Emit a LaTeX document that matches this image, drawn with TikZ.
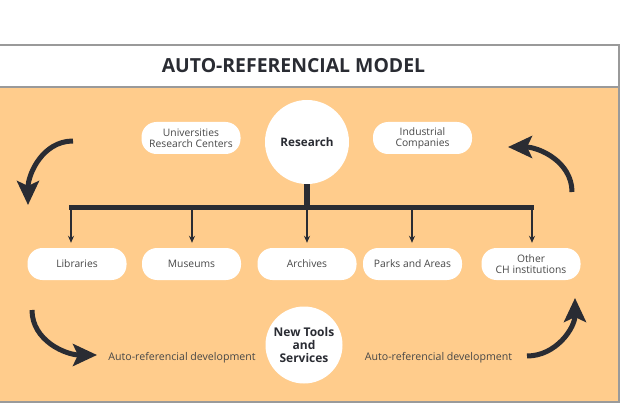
\documentclass[tikz,border=0pt]{standalone}
\usepackage{fontspec}
\setmainfont{Open Sans}
\usetikzlibrary{arrows.meta}
\definecolor{Peach}{HTML}{FFCC8C}
\definecolor{Ink}{HTML}{2A2C33}
\definecolor{Slate}{HTML}{474747}
\definecolor{FrameGray}{HTML}{9A9A9A}

\begin{document}
\begin{tikzpicture}[x=1pt,y=1pt,
  pill/.style={rounded corners=15pt, fill=white, minimum width=99pt, minimum height=32pt, inner sep=1pt, align=center, text=Slate, font=\fontsize{10.3}{11.3}\selectfont},
  hub/.style={circle, fill=white, inner sep=0pt, align=center, text=Ink},
  drop/.style={Ink, line width=1.3pt, shorten >=5pt, -{Stealth[length=7pt,width=6pt]}},
  loop/.style={Ink, line width=5pt, -{Stealth[length=24pt,width=22pt,inset=5pt]}},
  note/.style={text=Slate, font=\fontsize{10.6}{12}\selectfont}]

\useasboundingbox (0,0) rectangle (625,408);

% --- frame ---
\fill[white] (0,321) rectangle (619,363);
\fill[Peach] (0,6) rectangle (619,321);
\draw[FrameGray, line width=1.2pt] (0,363) -- (619,363) -- (619,6) -- (0,6);
\draw[FrameGray, line width=1.2pt] (0,321) -- (619,321);
\node[text=Ink, font=\bfseries\fontsize{19.4}{21}\selectfont] (title) at (293.5,342) {AUTO-REFERENCIAL MODEL};

% --- research and partners ---
\node[hub, minimum size=84pt, font=\bfseries\fontsize{11.7}{13}\selectfont] (research) at (307,266) {Research};
\node[pill] (univ) at (191,270) {Universities\\Research Centers};
\node[pill] (indus) at (422.5,270) {Industrial\\Companies};

% --- institutions ---
\foreach \n/\x/\lab in {lib/77/Libraries, mus/191.5/Museums, arch/307/Archives, park/412.5/Parks and Areas, other/531/Other\\CH institutions}
  \node[pill] (\n) at (\x,144) {\lab};

% --- tree ---
\coordinate (hub) at (307,201);
\coordinate (bar-w) at (69,201);
\coordinate (bar-e) at (534,201);
\draw[Ink, line width=6pt] (research.south) -- (hub);
\draw[Ink, line width=5pt] (bar-w) -- (bar-e);
\foreach \n/\x in {lib/71, mus/192, arch/307, park/412, other/532}{
  \coordinate (top-\n) at (\x,199);
  \draw[drop] (top-\n) -- (top-\n |- \n.north);
}

% --- new tools ---
\node[hub, minimum size=77pt, font=\bfseries\fontsize{12}{13}\selectfont] (tools) at (304,63) {New Tools\\and\\Services};
\node[note] (dev-l) at (182,50) {Auto-referencial development};
\node[note] (dev-r) at (438.5,50) {Auto-referencial development};

% --- loops ---
\coordinate (tl-a) at (73,267);  \coordinate (tl-b) at (28,203);
\coordinate (tr-a) at (572,216); \coordinate (tr-b) at (508,261);
\coordinate (bl-a) at (32,98);   \coordinate (bl-b) at (97,53);
\coordinate (br-a) at (527,52);  \coordinate (br-b) at (575,110);
\draw[loop] (tl-a) to[out=180,in=90] (tl-b);
\draw[loop] (tr-a) to[out=90,in=0] (tr-b);
\draw[loop] (bl-a) to[out=-90,in=180] (bl-b);
\draw[loop] (br-a) to[out=0,in=-90] (br-b);
\end{tikzpicture}
\end{document}
